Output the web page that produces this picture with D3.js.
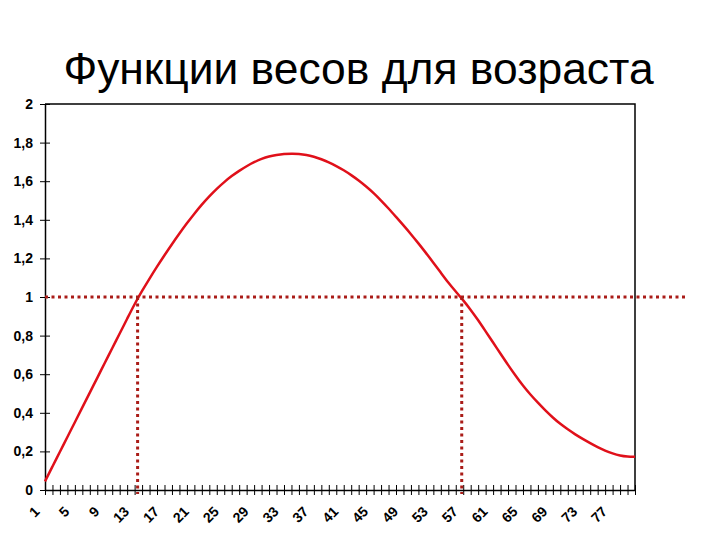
<!DOCTYPE html>
<html>
<head>
<meta charset="utf-8">
<script src="https://cdn.jsdelivr.net/npm/d3@7"></script>
<style>
  html, body { margin: 0; padding: 0; background: #fff; }
  svg { display: block; }
</style>
</head>
<body>
<svg id="chart" width="720" height="540"></svg>
<script>
// ---- data ----
const title = "Функции весов для возраста";
const ages = d3.range(1, 81);              // categories 1..80
const weights = [
  0.045, 0.122, 0.198, 0.275, 0.351, 0.428, 0.505, 0.581, 0.658, 0.734,
  0.811, 0.887, 0.964, 1.032, 1.096, 1.158, 1.217, 1.274, 1.329, 1.382,
  1.432, 1.479, 1.522, 1.561, 1.596, 1.627, 1.654, 1.678, 1.699, 1.716,
  1.729, 1.736, 1.741, 1.743, 1.742, 1.737, 1.727, 1.714, 1.698, 1.679,
  1.657, 1.632, 1.604, 1.573, 1.539, 1.500, 1.459, 1.415, 1.371, 1.326,
  1.278, 1.229, 1.178, 1.126, 1.074, 1.028, 0.983, 0.934, 0.880, 0.822,
  0.764, 0.706, 0.648, 0.593, 0.540, 0.494, 0.452, 0.412, 0.375, 0.342,
  0.314, 0.288, 0.265, 0.243, 0.222, 0.204, 0.189, 0.178, 0.173, 0.172
];
const xTickLabels = [1, 5, 9, 13, 17, 21, 25, 29, 33, 37, 41, 45, 49, 53, 57, 61, 65, 69, 73, 77];
const yTicks = [0, 0.2, 0.4, 0.6, 0.8, 1, 1.2, 1.4, 1.6, 1.8, 2];
const thresholdLevel = 1;
const crossingAges = [13.4, 56.8];         // where the curve crosses 1

// ---- layout ----
const svg = d3.select("#chart");
const L = 45, R = 635, T = 104, B = 490;
const font = "Liberation Sans, Arial, sans-serif";

const x = d3.scaleLinear().domain([1, 80]).range([L, R]);
const y = d3.scaleLinear().domain([0, 2]).range([B, T]);

// title
svg.append("text")
  .attr("x", 358.5).attr("y", 84)
  .attr("text-anchor", "middle")
  .attr("font-family", font)
  .attr("font-size", 44.4)
  .attr("fill", "#000")
  .text(title);

// plot frame (top & right)
svg.append("path")
  .attr("d", `M${L},${T}H${R}V${B}`)
  .attr("fill", "none").attr("stroke", "#000").attr("stroke-width", 1.5);

// y axis
const yAxis = d3.axisLeft(y).tickValues(yTicks).tickSize(0)
  .tickFormat(d => d3.format("")(d).replace(".", ","));
const gy = svg.append("g").attr("transform", `translate(${L},0)`).call(yAxis);
gy.select(".domain").attr("stroke", "#000").attr("stroke-width", 1.5);
gy.selectAll(".tick text")
  .attr("x", -12)
  .attr("font-family", font)
  .attr("font-weight", "bold").attr("font-size", 14).attr("fill", "#000");
gy.selectAll(".tick").append("line")
  .attr("x1", -5).attr("x2", 5).attr("stroke", "#000").attr("stroke-width", 1);

// x axis
const xAxis = d3.axisBottom(x).tickValues(ages).tickSize(0).tickFormat("");
const gx = svg.append("g").attr("transform", `translate(0,${B})`).call(xAxis);
gx.select(".domain").attr("stroke", "#000").attr("stroke-width", 1.5);
gx.selectAll(".tick").append("line")
  .attr("y1", -5).attr("y2", 5).attr("stroke", "#000").attr("stroke-width", 1);

// x labels (rotated)
svg.append("g").selectAll("text").data(xTickLabels).join("text")
  .attr("transform", d => `translate(${x(d) - 8},${B + 19}) rotate(-45)`)
  .attr("text-anchor", "end")
  .attr("dy", "0.35em")
  .attr("font-family", font)
  .attr("font-weight", "bold").attr("font-size", 14).attr("fill", "#000")
  .text(d => d);

// curve
const line = d3.line().x((d, i) => x(ages[i])).y(d => y(d)).curve(d3.curveBasis);
svg.append("path")
  .datum(weights)
  .attr("d", line)
  .attr("fill", "none").attr("stroke", "#e0101a").attr("stroke-width", 2.5)
  .attr("stroke-linejoin", "round");

// threshold dotted lines
const dotColor = "#aa1c18";
svg.append("line")
  .attr("x1", L).attr("x2", 687)
  .attr("y1", y(thresholdLevel)).attr("y2", y(thresholdLevel))
  .attr("stroke", dotColor).attr("stroke-width", 3).attr("stroke-dasharray", "3,3.5");
svg.append("g").selectAll("line").data(crossingAges).join("line")
  .attr("x1", d => x(d)).attr("x2", d => x(d))
  .attr("y1", y(thresholdLevel)).attr("y2", B + 4)
  .attr("stroke", dotColor).attr("stroke-width", 3).attr("stroke-dasharray", "3,3.5");
</script>
</body>
</html>
